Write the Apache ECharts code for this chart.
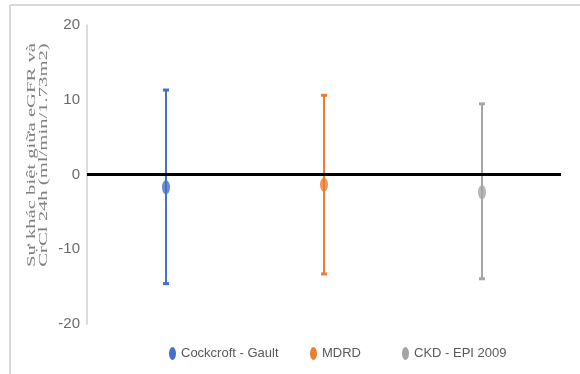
<!DOCTYPE html>
<html>
<head>
<meta charset="utf-8">
<script src="https://cdn.jsdelivr.net/npm/echarts@6/dist/echarts.min.js"></script>
<style>
  html, body { margin: 0; padding: 0; background: #fff; }
  #chart { width: 580px; height: 374px; }
</style>
</head>
<body>
<div id="chart"></div>
<script>
// Bland–Altman style summary: mean difference and limits of agreement per formula
const categories = ['Cockcroft - Gault', 'MDRD', 'CKD - EPI 2009'];
const meanDiff   = [-1.70, -1.38, -2.37];
const lowerLimit = [-14.6, -13.3, -13.95];
const upperLimit = [11.3, 10.6, 9.45];
const colors     = ['#4472C4', '#ED7D31', '#A5A5A5'];
const yTicks     = { min: -20, max: 20, interval: 10 };
const yTitle     = ['Sự khác biệt giữa eGFR và', 'CrCl 24h (ml/min/1.73m2)'];

const ellipse = 'path://M50,0A50,50,0,1,1,50,100A50,50,0,1,1,50,0Z';
const sans = '"Liberation Sans", Arial, sans-serif';

function errorBar(params, api) {
  const top = api.coord([api.value(0), api.value(2)]);
  const bot = api.coord([api.value(0), api.value(1)]);
  const color = api.visual('color');
  const capW = 6, capH = 3;
  return {
    type: 'group',
    children: [
      { type: 'line', shape: { x1: top[0], y1: top[1], x2: bot[0], y2: bot[1] },
        style: { stroke: color, lineWidth: 2 } },
      { type: 'rect', shape: { x: top[0] - capW / 2, y: top[1] - capH / 2, width: capW, height: capH },
        style: { fill: color } },
      { type: 'rect', shape: { x: bot[0] - capW / 2, y: bot[1] - capH / 2, width: capW, height: capH },
        style: { fill: color } }
    ]
  };
}

const series = [];
categories.forEach((name, i) => {
  series.push({
    name, type: 'custom', color: colors[i], z: 2,
    renderItem: errorBar,
    data: [[i, lowerLimit[i], upperLimit[i]]],
    encode: { x: 0, y: [1, 2] }
  });
  series.push({
    name, type: 'scatter', color: colors[i], z: 3,
    symbol: ellipse, symbolSize: [8, 14], symbolKeepAspect: false,
    data: [[i, meanDiff[i]]]
  });
});
// zero reference line
series.push({
  type: 'scatter', data: [], z: 5, silent: true,
  markLine: {
    silent: true, symbol: 'none', label: { show: false },
    lineStyle: { color: '#000', width: 3, type: 'solid' },
    data: [{ yAxis: 0 }]
  }
});

// stretch the rotated axis title along its length
function measure(text, font) {
  const c = document.createElement('canvas').getContext('2d');
  c.font = font;
  return c.measureText(text).width;
}
const titleFont = '13px "Liberation Serif", "DejaVu Serif", serif';
const titleScale = 224 / Math.max(measure(yTitle[0], titleFont), measure(yTitle[1], titleFont));

const legendLefts = [164, 305, 397];
const legends = categories.map((name, i) => ({
  left: legendLefts[i], top: 342,
  itemWidth: 7, itemHeight: 13, itemGap: 0,
  symbolKeepAspect: false,
  selectedMode: false,
  data: [{ name, icon: ellipse, itemStyle: { color: colors[i] } }],
  textStyle: { fontFamily: sans, fontSize: 13, color: '#595959' }
}));

const chart = echarts.init(document.getElementById('chart'), null, { renderer: 'canvas' });
chart.setOption({
  animation: false,
  backgroundColor: '#fff',
  grid: { left: 87, right: 19, top: 25, bottom: 50 },
  xAxis: {
    type: 'category', data: categories,
    axisLine: { show: false }, axisTick: { show: false }, axisLabel: { show: false },
    splitLine: { show: false }
  },
  yAxis: {
    type: 'value', min: yTicks.min, max: yTicks.max, interval: yTicks.interval,
    axisLine: { show: true, lineStyle: { color: '#d0d0d0', width: 1.5 } },
    axisTick: { show: false },
    splitLine: { show: false },
    axisLabel: { margin: 7, color: '#6a6a6a', fontFamily: sans, fontSize: 15 }
  },
  legend: legends,
  graphic: [
    { type: 'line', silent: true, shape: { x1: 10, y1: 5, x2: 580, y2: 5 },
      style: { stroke: '#d9d9d9', lineWidth: 2 } },
    { type: 'line', silent: true, shape: { x1: 10, y1: 5, x2: 10, y2: 374 },
      style: { stroke: '#d9d9d9', lineWidth: 2 } },
    { type: 'text', silent: true, x: 38, y: 155, rotation: Math.PI / 2, scaleX: titleScale,
      style: { text: yTitle.join('\n'), font: titleFont, fill: '#808080',
               align: 'center', verticalAlign: 'middle', lineHeight: 12 } }
  ],
  series
});
</script>
</body>
</html>
